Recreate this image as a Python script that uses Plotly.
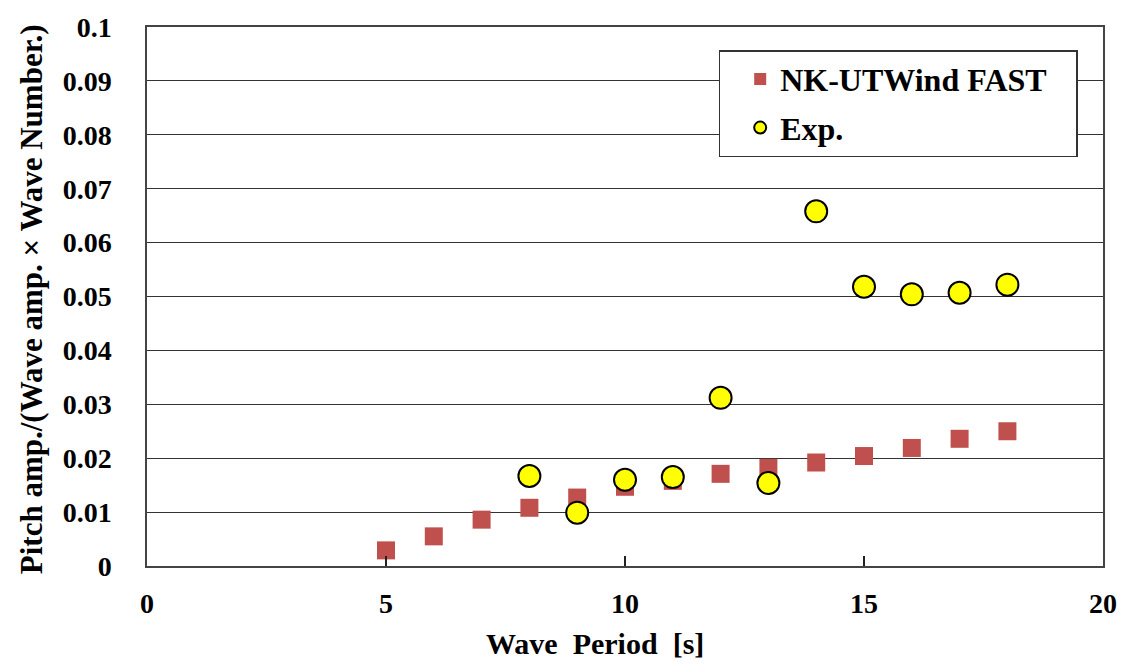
import plotly.graph_objects as go

period_sim = [5, 6, 7, 8, 9, 10, 11, 12, 13, 14, 15, 16, 17, 18]
pitch_sim = [0.0029, 0.0055, 0.0086, 0.0108, 0.0127, 0.0147, 0.0158, 0.0171, 0.0182, 0.0192, 0.0204, 0.0219, 0.0236, 0.0250]

period_exp = [8, 9, 10, 11, 12, 13, 14, 15, 16, 17, 18]
pitch_exp = [0.0167, 0.0099, 0.0160, 0.0165, 0.0312, 0.0154, 0.0658, 0.0518, 0.0504, 0.0507, 0.0522]

x_ticks = [0, 5, 10, 15, 20]
y_ticks = [0, 0.01, 0.02, 0.03, 0.04, 0.05, 0.06, 0.07, 0.08, 0.09, 0.1]
y_labels = ["0", "0.01", "0.02", "0.03", "0.04", "0.05", "0.06", "0.07", "0.08", "0.09", "0.1"]

FONT = "Liberation Serif"

fig = go.Figure()
fig.add_trace(go.Scatter(
    x=period_sim, y=pitch_sim, mode="markers", name="NK-UTWind FAST\u00a0\u00a0\u00a0",
    legendgroup="a",
    marker=dict(symbol="square", size=18, color="#C0504D", line=dict(width=0)),
))
fig.add_trace(go.Scatter(
    x=period_exp, y=pitch_exp, mode="markers", name="Exp.",
    legendgroup="b",
    marker=dict(symbol="circle", size=22, color="#FFFF00", line=dict(width=2, color="#000000")),
))

fig.update_layout(
    width=1129, height=664,
    margin=dict(l=147, r=26, t=22, b=98),
    paper_bgcolor="white", plot_bgcolor="white",
    font=dict(family=FONT, size=24, color="black"),
    showlegend=True,
    legend=dict(
        x=0.598, y=0.957, xanchor="left", yanchor="top",
        bgcolor="white", bordercolor="#333333", borderwidth=1.5,
        font=dict(family=FONT, size=32, color="black", weight="bold"),
        itemsizing="constant",
        tracegroupgap=4,
        indentation=20,
    ),
    xaxis=dict(
        range=[0, 20], tickvals=x_ticks, ticktext=[str(v) for v in x_ticks],
        showgrid=False, zeroline=False,
        showline=True, linecolor="#444444", linewidth=1.5, mirror=True,
        ticks="inside", ticklen=10, tickcolor="#222222", tickwidth=1.5,
        tickfont=dict(family=FONT, size=28, color="black", weight="bold"),
        ticklabelstandoff=12,
    ),
    yaxis=dict(
        range=[0, 0.1], tickvals=y_ticks, ticktext=y_labels,
        showgrid=True, gridcolor="#333333", gridwidth=1.3, zeroline=False,
        showline=True, linecolor="#444444", linewidth=1.5, mirror=True,
        ticks="",
        tickfont=dict(family=FONT, size=28, color="black", weight="bold"),
        ticklabelstandoff=28,
    ),
    annotations=[
        dict(
            text="Wave  Period  [s]", xref="paper", yref="paper", x=0.469, y=0,
            xanchor="center", yanchor="middle", yshift=-77, showarrow=False,
            font=dict(family=FONT, size=30, color="black", weight="bold"),
        ),
        dict(
            text="Pitch amp./(Wave amp. × Wave Number.)", xref="paper", yref="paper",
            x=0, y=0.495, xanchor="center", yanchor="middle", xshift=-116,
            textangle=-90, showarrow=False,
            font=dict(family=FONT, size=31, color="black", weight="bold"),
        ),
    ],
)

fig.write_html("out.html")
